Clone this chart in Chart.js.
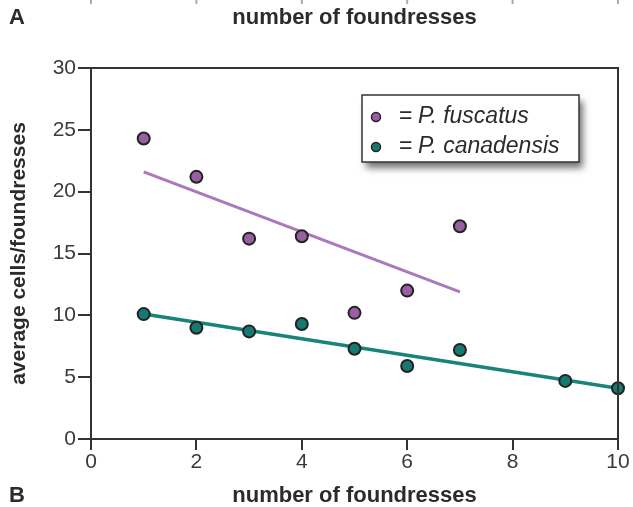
<!DOCTYPE html>
<html>
<head>
<meta charset="utf-8">
<script src="https://cdn.jsdelivr.net/npm/chart.js@4/dist/chart.umd.min.js"></script>
<style>
  html, body { margin: 0; padding: 0; background: #fff; }
  #wrap { width: 633px; height: 507px; }
</style>
</head>
<body>
<div id="wrap"><canvas id="chart"></canvas></div>
<script>
// foundresses per nest
const fuscatusX = [1, 2, 3, 4, 5, 6, 7];
const fuscatusY = [24.3, 21.2, 16.2, 16.4, 10.2, 12.0, 17.2];
const canadensisX = [1, 2, 3, 4, 5, 6, 7, 9, 10];
const canadensisY = [10.1, 9.0, 8.7, 9.3, 7.3, 5.9, 7.2, 4.7, 4.1];
// fitted trend lines (end points)
const fuscatusFitX = [1, 7];
const fuscatusFitY = [21.6, 11.9];
const canadensisFitX = [1, 10];
const canadensisFitY = [10.1, 4.1];
const xTicks = [0, 2, 4, 6, 8, 10];
const yTicks = [0, 5, 10, 15, 20, 25, 30];

const purple = "#9a5ea2";
const teal = "#177a72";
const purpleLine = "#ab78bd";
const tealLine = "#168479";
const axisColor = "#333";
const textColor = "#2b2b2b";
const fontFamily = "'Liberation Sans', Arial, sans-serif";

const toPoints = (xs, ys) => xs.map((x, i) => ({ x: x, y: ys[i] }));

// texts, legend box and frame
const decor = {
  id: "decor",
  afterDraw(chart) {
    const ctx = chart.ctx;
    const area = chart.chartArea;
    const xs = chart.scales.x;
    ctx.save();

    // frame top / right
    ctx.strokeStyle = axisColor;
    ctx.lineWidth = 2;
    ctx.strokeRect(area.left, area.top, area.right - area.left, area.bottom - area.top);

    // leftover ticks of the panel above
    ctx.strokeStyle = "#aaa";
    xTicks.forEach(v => {
      const px = xs.getPixelForValue(v);
      ctx.beginPath();
      ctx.moveTo(px, 0);
      ctx.lineTo(px, 4);
      ctx.stroke();
    });

    ctx.fillStyle = textColor;
    ctx.textBaseline = "middle";
    ctx.font = "bold 22px " + fontFamily;
    ctx.textAlign = "left";
    ctx.fillText("A", 9, 18);
    ctx.fillText("B", 9, 496);
    ctx.textAlign = "center";
    const cx = (area.left + area.right) / 2;
    ctx.fillText("number of foundresses", cx, 18);
    ctx.fillText("number of foundresses", cx, 496);

    ctx.save();
    ctx.font = "bold 21px " + fontFamily;
    ctx.translate(19, (area.top + area.bottom) / 2);
    ctx.rotate(-Math.PI / 2);
    ctx.fillText("average cells/foundresses", 0, 0);
    ctx.restore();

    // legend box with shadow
    const bx = 362, by = 95, bw = 217, bh = 67;
    ctx.save();
    ctx.shadowColor = "rgba(0,0,0,0.55)";
    ctx.shadowBlur = 7;
    ctx.shadowOffsetX = 4;
    ctx.shadowOffsetY = 6;
    ctx.fillStyle = "#fff";
    ctx.fillRect(bx, by, bw, bh);
    ctx.restore();
    ctx.strokeStyle = axisColor;
    ctx.lineWidth = 1.5;
    ctx.strokeRect(bx, by, bw, bh);

    const rows = [
      { name: "P. fuscatus", color: purple, y: by + 22 },
      { name: "P. canadensis", color: teal, y: by + 52 }
    ];
    rows.forEach(r => {
      ctx.beginPath();
      ctx.arc(bx + 14, r.y, 4.5, 0, Math.PI * 2);
      ctx.fillStyle = r.color;
      ctx.fill();
      ctx.strokeStyle = "#222";
      ctx.lineWidth = 1.5;
      ctx.stroke();
      ctx.fillStyle = textColor;
      ctx.textAlign = "left";
      ctx.font = "23px " + fontFamily;
      ctx.fillText("=", bx + 37, r.y);
      ctx.font = "italic 23px " + fontFamily;
      ctx.fillText(r.name, bx + 56, r.y);
    });
    ctx.restore();
  }
};

new Chart(document.getElementById("chart"), {
  type: "scatter",
  data: {
    datasets: [
      {
        label: "P. fuscatus",
        data: toPoints(fuscatusX, fuscatusY),
        backgroundColor: purple,
        borderColor: "#222",
        borderWidth: 2,
        pointRadius: 6,
        order: 1,
        clip: false
      },
      {
        label: "P. canadensis",
        data: toPoints(canadensisX, canadensisY),
        backgroundColor: teal,
        borderColor: "#222",
        borderWidth: 2,
        pointRadius: 6,
        order: 1,
        clip: false
      },
      {
        label: "fuscatus fit",
        data: toPoints(fuscatusFitX, fuscatusFitY),
        showLine: true,
        borderColor: purpleLine,
        borderWidth: 3,
        pointRadius: 0,
        order: 2
      },
      {
        label: "canadensis fit",
        data: toPoints(canadensisFitX, canadensisFitY),
        showLine: true,
        borderColor: tealLine,
        borderWidth: 3.5,
        pointRadius: 0,
        order: 2
      }
    ]
  },
  plugins: [decor],
  options: {
    responsive: true,
    maintainAspectRatio: false,
    animation: false,
    layout: { padding: { top: 68, right: 15, bottom: 0, left: 0 } },
    plugins: {
      legend: { display: false },
      tooltip: { enabled: false }
    },
    scales: {
      x: {
        type: "linear",
        min: 0,
        max: 10,
        afterBuildTicks: s => { s.ticks = xTicks.map(v => ({ value: v })); },
        afterFit: s => { s.height = 68; s.paddingLeft = 0; s.paddingRight = 0; },
        ticks: { color: "#3a3a3a", font: { size: 21, family: fontFamily }, padding: 0 },
        grid: { drawOnChartArea: false, drawTicks: true, tickLength: 11, color: axisColor, lineWidth: 2 },
        border: { display: true, color: axisColor, width: 2 }
      },
      y: {
        type: "linear",
        min: 0,
        max: 30,
        afterBuildTicks: s => { s.ticks = yTicks.map(v => ({ value: v })); },
        afterFit: s => { s.width = 91; s.paddingTop = 0; s.paddingBottom = 0; },
        ticks: { color: "#3a3a3a", font: { size: 21, family: fontFamily }, padding: 2 },
        grid: { drawOnChartArea: false, drawTicks: true, tickLength: 13, color: axisColor, lineWidth: 2 },
        border: { display: true, color: axisColor, width: 2 }
      }
    }
  }
});
</script>
</body>
</html>
